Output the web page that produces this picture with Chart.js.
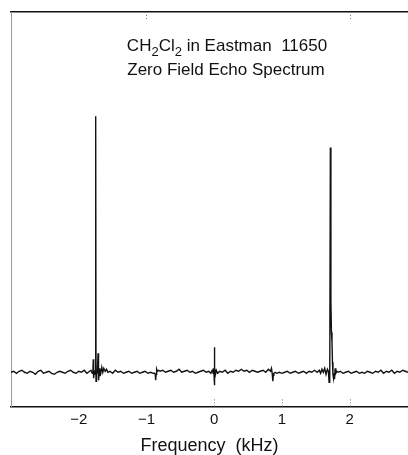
<!DOCTYPE html>
<html lang="en">
<head>
    <meta charset="UTF-8">
    <title>Zero Field Echo Spectrum</title>
    <script src="https://cdn.jsdelivr.net/npm/chart.js"></script>
    <style>
        body, html {
            margin: 0;
            padding: 0;
            width: 408px;
            height: 455px;
            overflow: hidden;
            background: #fff;
            font-family: "Liberation Sans", Arial, sans-serif;
        }
        #wrap { width: 408px; height: 455px; }
    </style>
</head>
<body>
    <div id="wrap"><canvas id="echoChart"></canvas></div>

    <script>
        // frequency (kHz) and echo signal (arbitrary units, baseline = 0)
        const freq = [
            -3.00, -2.96, -2.92, -2.88, -2.84, -2.80, -2.76, -2.72, -2.68, -2.64,
            -2.60, -2.56, -2.52, -2.48, -2.44, -2.40, -2.36, -2.32, -2.28, -2.24,
            -2.20, -2.16, -2.12, -2.08, -2.04, -2.00, -1.96, -1.92, -1.88, -1.84,
            -1.82, -1.80, -1.79, -1.785, -1.78, -1.772, -1.762, -1.755, -1.75, -1.745,
            -1.738, -1.725, -1.715, -1.708, -1.70, -1.69, -1.675, -1.66, -1.645, -1.63,
            -1.61, -1.59, -1.57,
            -1.54, -1.50, -1.46, -1.42, -1.38, -1.34, -1.30, -1.26, -1.22, -1.18,
            -1.14, -1.10, -1.06, -1.02, -0.98, -0.94, -0.90,
            -0.88, -0.87, -0.865, -0.858, -0.85, -0.84, -0.82,
            -0.80, -0.76, -0.72, -0.68, -0.64, -0.60, -0.56, -0.52, -0.48, -0.44,
            -0.40, -0.36, -0.32, -0.28, -0.24, -0.20, -0.16, -0.12, -0.08, -0.05,
            -0.03, -0.015, -0.008, -0.003, 0.00, 0.004, 0.01, 0.018, 0.03, 0.05,
            0.08, 0.12, 0.16, 0.20, 0.24, 0.28, 0.32, 0.36, 0.40, 0.44,
            0.48, 0.52, 0.56, 0.60, 0.64, 0.68, 0.72, 0.76, 0.80, 0.83, 0.845,
            0.855, 0.865, 0.872, 0.88, 0.90, 0.92, 0.96, 1.00, 1.04, 1.08,
            1.12, 1.16, 1.20, 1.24, 1.28, 1.32, 1.36, 1.40, 1.44, 1.48, 1.52, 1.55,
            1.57, 1.59, 1.61, 1.63, 1.65, 1.67, 1.685, 1.695, 1.705, 1.714,
            1.722, 1.73, 1.738, 1.745, 1.752, 1.76, 1.768, 1.775, 1.785, 1.795,
            1.81, 1.83,
            1.86, 1.90, 1.94, 1.98, 2.02, 2.06, 2.10, 2.14, 2.18, 2.22,
            2.26, 2.30, 2.34, 2.38, 2.42, 2.46, 2.50, 2.54, 2.58, 2.62,
            2.66, 2.70, 2.74, 2.78, 2.82, 2.86
        ];
        const signal = [
            0, 1, -1, 1, 2, 0, -1, 1, 0, -2,
            1, 2, -1, 0, 1, -1, -2, 0, 1, 0,
            -1, 1, 2, 0, -1, 1, 0, 2, -1, 1,
            2, -1, 3, 13, -6, 1, 2, -2, 255, -9,
            -2, 1, 19, -8, -3, 4, -1, 5, 0, 4,
            1, 3, 0,
            1, -1, 2, 0, 1, -1, 0, 1, -1, 0,
            1, -1, 0, 1, -1, 0, -1,
            -1, -2, -8, -2, 3, 1, 2,
            1, 2, 0, 1, 2, 0, 1, 3, 0, 1,
            2, 0, 1, -1, 0, 1, 2, 0, 1, -1,
            2, -1, 4, -3, 25, -13, 4, -2, 2, -1,
            1, 0, 2, -1, 1, 0, 2, 1, 3, 1,
            2, 0, 2, 1, 0, 1, 2, 0, 3, 1, 4,
            -1, -9, -3, -1, 0, -1, 0, -1, 0, 1,
            -1, 0, 1, -1, 0, 1, -1, 1, 0, 2, 0, 2,
            -1, 3, 0, 4, -2, 3, 1, -10, -4, 224,
            70, 40, 30, 10, -2, -6, -1, -7, 4, -1,
            1, 0,
            1, -1, 0, 1, -1, 0, 1, -1, 0, -1,
            1, 0, -1, 1, 0, 2, -1, 1, 0, 2,
            -1, 1, 0, 2, 1, 0
        ];
        const tickValues = [-2, -1, 0, 1, 2];
        const bottomTicks = [0, 1, 2];
        const topTicks = [-1, 2];

        const FONT = '"Liberation Sans", Arial, Helvetica, sans-serif';

        // title lines with subscripts, plus small inward tick marks
        const decor = {
            id: 'decor',
            afterDraw(chart) {
                const ctx = chart.ctx;
                const xs = chart.scales.x;
                const area = chart.chartArea;
                ctx.save();
                ctx.strokeStyle = '#777';
                ctx.lineWidth = 1;
                ctx.setLineDash([1, 2]);
                bottomTicks.forEach(v => {
                    const px = Math.round(xs.getPixelForValue(v)) + 0.5;
                    ctx.beginPath();
                    ctx.moveTo(px, area.bottom);
                    ctx.lineTo(px, area.bottom - 9);
                    ctx.stroke();
                });
                topTicks.forEach(v => {
                    const px = Math.round(xs.getPixelForValue(v)) + 0.5;
                    ctx.beginPath();
                    ctx.moveTo(px, area.top);
                    ctx.lineTo(px, area.top + 8);
                    ctx.stroke();
                });
                ctx.setLineDash([]);

                ctx.fillStyle = '#111';
                ctx.textBaseline = 'alphabetic';
                const big = '17px ' + FONT;
                const small = '13px ' + FONT;
                const parts = [['CH', big, 0], ['2', small, 5], ['Cl', big, 0], ['2', small, 5], [' in Eastman  11650', big, 0]];
                let w = 0;
                parts.forEach(p => { ctx.font = p[1]; w += ctx.measureText(p[0]).width; });
                let x = 227 - w / 2;
                parts.forEach(p => {
                    ctx.font = p[1];
                    ctx.textAlign = 'left';
                    ctx.fillText(p[0], x, 51 + p[2]);
                    x += ctx.measureText(p[0]).width;
                });
                ctx.font = big;
                ctx.textAlign = 'center';
                ctx.fillText('Zero Field Echo Spectrum', 226, 75);
                ctx.restore();
            }
        };

        const ctxEcho = document.getElementById('echoChart').getContext('2d');
        new Chart(ctxEcho, {
            type: 'line',
            data: {
                datasets: [{
                    data: freq.map((f, i) => ({ x: f, y: signal[i] })),
                    borderColor: '#111',
                    borderWidth: 1.4,
                    pointRadius: 0,
                    tension: 0,
                    fill: false
                }]
            },
            options: {
                animation: false,
                responsive: true,
                maintainAspectRatio: false,
                layout: { padding: { left: 11, right: 0, top: 12, bottom: 0 } },
                scales: {
                    x: {
                        type: 'linear',
                        min: -3,
                        max: 2.86,
                        border: { display: true, color: '#111', width: 1.5 },
                        grid: { display: false, drawTicks: false },
                        afterBuildTicks: (s) => { s.ticks = tickValues.map(v => ({ value: v })); },
                        ticks: {
                            padding: 4,
                            color: '#111',
                            font: { family: FONT, size: 15 },
                            callback: (v) => v < 0 ? '\u2212' + Math.abs(v) : String(v)
                        },
                        title: {
                            display: true,
                            text: 'Frequency  (kHz)',
                            color: '#111',
                            font: { family: FONT, size: 18 },
                            padding: { top: 3, bottom: -2 }
                        }
                    },
                    xTop: {
                        type: 'linear',
                        position: 'top',
                        min: -3,
                        max: 2.86,
                        border: { display: true, color: '#111', width: 1.5 },
                        grid: { display: false, drawTicks: false },
                        ticks: { display: false }
                    },
                    y: {
                        min: -34,
                        max: 359,
                        border: { display: true, color: '#999', width: 1, dash: [1, 3] },
                        grid: { display: false, drawTicks: false },
                        ticks: { display: false }
                    }
                },
                plugins: {
                    legend: { display: false },
                    tooltip: { enabled: false }
                }
            },
            plugins: [decor]
        });
    </script>
</body>
</html>
